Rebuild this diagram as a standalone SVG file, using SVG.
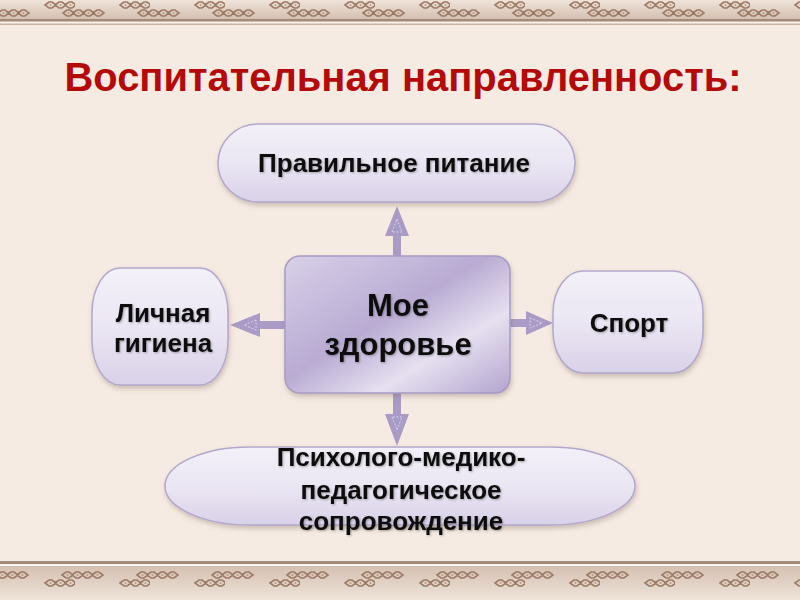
<svg xmlns="http://www.w3.org/2000/svg" width="800" height="600" viewBox="0 0 800 600">
<defs>
<style>
.t{font-family:"Liberation Sans",Arial,sans-serif;font-weight:bold;fill:#111;text-anchor:middle}
.node{fill:url(#gNode);stroke:#b3a8cc;stroke-width:1.5;filter:url(#sh)}
.arr{fill:#a99bc6}
.orn{fill:none;stroke:#9b7a66;stroke-width:1.6}
</style>
<linearGradient id="gNode" x1="0" y1="0" x2="0" y2="1">
<stop offset="0" stop-color="#f3f0f8"/>
<stop offset="0.5" stop-color="#ebe6f3"/>
<stop offset="1" stop-color="#d9d1e8"/>
</linearGradient>
<linearGradient id="gCenter" x1="0" y1="0" x2="1" y2="1">
<stop offset="0" stop-color="#d8d0e8"/>
<stop offset="0.45" stop-color="#b9abd3"/>
<stop offset="0.7" stop-color="#e6e0f0"/>
<stop offset="1" stop-color="#b3a4cf"/>
</linearGradient>
<linearGradient id="gBand" x1="0" y1="0" x2="0" y2="1">
<stop offset="0" stop-color="#efe3d9"/>
<stop offset="1" stop-color="#d4c0b1"/>
</linearGradient>
<linearGradient id="gBand2" x1="0" y1="0" x2="0" y2="1">
<stop offset="0" stop-color="#d4c0b1"/>
<stop offset="1" stop-color="#efe3d9"/>
</linearGradient>
<filter id="sh" x="-10%" y="-10%" width="120%" height="130%">
<feDropShadow dx="1" dy="3" stdDeviation="2.5" flood-color="#7a6a60" flood-opacity="0.35"/>
</filter>
<filter id="tsh" x="-5%" y="-20%" width="110%" height="150%">
<feDropShadow dx="1" dy="1" stdDeviation="0.8" flood-color="#000" flood-opacity="0.3"/>
</filter>
<g id="cl">
<path class="orn" d="M0,0 l4,-3 h3 l4,3 l-4,3 h-3 z M10,0 l4,-3 h3 l4,3 l-4,3 h-3 z M20,0 l4,-3 h3 l4,3 l-4,3 h-3 z M30,0 l4,-3 h3 l4,3 l-4,3 h-3 z"/>
<circle cx="5.5" cy="0" r="1" fill="#b8967f"/><circle cx="15.5" cy="0" r="1" fill="#b8967f"/><circle cx="25.5" cy="0" r="1" fill="#b8967f"/><circle cx="35.5" cy="0" r="1" fill="#b8967f"/>
</g>
<pattern id="pTop" x="0" y="0" width="75" height="20" patternUnits="userSpaceOnUse">
<use href="#cl" x="45" y="5"/>
<use href="#cl" x="-12" y="13"/>
<use href="#cl" x="63" y="13"/>
</pattern>
<pattern id="pBot" x="0" y="568" width="75" height="32" patternUnits="userSpaceOnUse">
<use href="#cl" x="62" y="7"/>
<use href="#cl" x="-13" y="7"/>
<use href="#cl" x="45" y="15"/>
</pattern>
</defs>

<rect width="800" height="600" fill="#f6ebe3"/>

<g id="border-top">
<rect x="0" y="0" width="800" height="19" fill="url(#gBand)"/>
<rect x="0" y="0" width="800" height="19" fill="url(#pTop)"/>
<rect x="0" y="19" width="800" height="2.5" fill="#a38b7a"/>
<rect x="0" y="22" width="800" height="1.5" fill="#faf4ef"/>
<rect x="0" y="23.5" width="800" height="1.5" fill="#c9b5a6"/>
</g>
<g id="border-bottom">
<rect x="0" y="561" width="800" height="3" fill="#a38b7a"/>
<rect x="0" y="564" width="800" height="2" fill="#faf4ef"/>
<rect x="0" y="566" width="800" height="34" fill="url(#gBand2)"/>
<rect x="0" y="566" width="800" height="34" fill="url(#pBot)"/>
</g>

<text x="403" y="91" font-family="Liberation Sans, Arial, sans-serif" font-weight="bold" font-size="40" fill="#b40a0a" text-anchor="middle" textLength="677" lengthAdjust="spacingAndGlyphs">Воспитательная направленность:</text>

<g id="connectors">
<g class="arr">
<rect x="393" y="232" width="8" height="25"/>
<polygon points="385,236 397,206 409,236"/>
<rect x="393" y="392" width="8" height="25"/>
<polygon points="385,414 397,446 409,414"/>
<rect x="256" y="321" width="30" height="8"/>
<polygon points="260,313 230,325 260,337"/>
<rect x="508" y="319" width="22" height="8"/>
<polygon points="526,311 553,323 526,335"/>
</g>
<g fill="none" stroke="#e4def0" stroke-width="0.8" stroke-dasharray="2,1.5">
<polygon points="392,232 397,219 402,232"/>
<polygon points="392,417 397,430 402,417"/>
<polygon points="256,320 244,325 256,330"/>
<polygon points="530,318 542,323 530,328"/>
</g>
</g>

<g id="node-top">
<rect class="node" x="218" y="124" width="357" height="78" rx="40" ry="39"/>
<text class="t" x="394" y="172" font-size="26" filter="url(#tsh)">Правильное питание</text>
</g>

<g id="node-center">
<rect x="285" y="256" width="225" height="137" rx="15" fill="url(#gCenter)" stroke="#a99bc6" stroke-width="1.5" filter="url(#sh)"/>
<text class="t" x="398" y="316" font-size="31" filter="url(#tsh)">Мое</text>
<text class="t" x="398" y="355" font-size="31" filter="url(#tsh)">здоровье</text>
</g>

<g id="node-left">
<rect class="node" x="92" y="268" width="136" height="117" rx="28" ry="45"/>
<text class="t" x="163" y="322" font-size="26" filter="url(#tsh)">Личная</text>
<text class="t" x="163" y="352" font-size="26" filter="url(#tsh)">гигиена</text>
</g>

<g id="node-right">
<rect class="node" x="553" y="271" width="150" height="102" rx="30" ry="42"/>
<text class="t" x="629" y="332" font-size="26" filter="url(#tsh)">Спорт</text>
</g>

<g id="node-bottom">
<rect class="node" x="165" y="447" width="470" height="78" rx="85" ry="39"/>
<text class="t" x="401" y="466" font-size="26" filter="url(#tsh)">Психолого-медико-</text>
<text class="t" x="401" y="499" font-size="26" filter="url(#tsh)">педагогическое</text>
<text class="t" x="401" y="530" font-size="26" filter="url(#tsh)">сопровождение</text>
</g>
</svg>
